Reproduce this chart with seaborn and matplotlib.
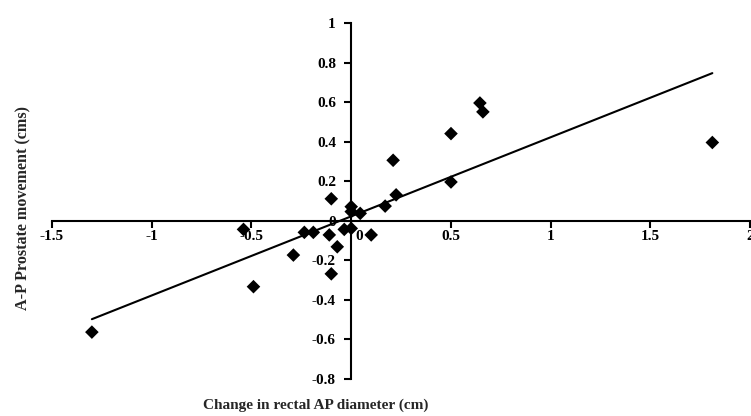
import numpy as np
import pandas as pd
import matplotlib
matplotlib.use("Agg")
import matplotlib.pyplot as plt
import matplotlib.transforms as mtransforms
import seaborn as sns

# values
rectal_change = [-1.30, -0.54, -0.49, -0.29, -0.235, -0.19, -0.11, -0.10, -0.10, -0.07,
                 -0.035, 0.0, 0.0, 0.0, 0.045, 0.10, 0.17, 0.21, 0.225, 0.50,
                 0.50, 0.645, 0.66, 1.81]
prostate_move = [-0.565, -0.045, -0.335, -0.175, -0.06, -0.06, -0.073, 0.11, -0.27, -0.133,
                 -0.045, 0.07, 0.045, -0.04, 0.036, -0.073, 0.073, 0.305, 0.13, 0.44,
                 0.195, 0.595, 0.55, 0.395]
x_ticks = [-1.5, -1, -0.5, 0, 0.5, 1, 1.5, 2]
x_labels = ["-1.5", "-1", "-0.5", "0", "0.5", "1", "1.5", "2"]
y_ticks = [-0.8, -0.6, -0.4, -0.2, 0, 0.2, 0.4, 0.6, 0.8, 1]
y_labels = ["-0.8", "-0.6", "-0.4", "-0.2", "0", "0.2", "0.4", "0.6", "0.8", "1"]

df = pd.DataFrame({"rectal": rectal_change, "prostate": prostate_move})

sns.set_style("white")
plt.rcParams["font.family"] = ["Liberation Serif", "DejaVu Serif"]

fig = plt.figure(figsize=(7.51, 4.16), dpi=100)
ax = fig.add_axes([0.0692, 0.0901, 0.9298, 0.8546])

sns.regplot(x="rectal", y="prostate", data=df, ci=None, ax=ax,
            marker="D", color="black",
            scatter_kws={"s": 48, "edgecolor": "none", "alpha": 1, "zorder": 3},
            line_kws={"linewidth": 1.5, "color": "black"})

ax.set_xlim(-1.5, 2)
ax.set_ylim(-0.8, 1)

# axes cross at the origin
ax.spines["left"].set_position(("data", 0))
ax.spines["bottom"].set_position(("data", 0))
ax.spines["right"].set_visible(False)
ax.spines["top"].set_visible(False)
for s in ["left", "bottom"]:
    ax.spines[s].set_linewidth(1.5)
    ax.spines[s].set_color("black")

ax.set_xticks(x_ticks)
ax.set_xticklabels(x_labels)
ax.set_yticks(y_ticks)
ax.set_yticklabels(y_labels)
ax.tick_params(axis="x", bottom=True, direction="out", length=5, width=1.5, pad=2,
               labelsize=11, colors="black")
ax.tick_params(axis="y", left=True, direction="out", length=5, width=1.5, pad=6,
               labelsize=11, colors="black")
for lab in ax.get_xticklabels() + ax.get_yticklabels():
    lab.set_fontweight("bold")

# the "0" on the x axis sits a little right of the vertical axis
zero_lab = ax.get_xticklabels()[3]
zero_lab.set_transform(zero_lab.get_transform() +
                       mtransforms.ScaledTranslation(6 / 72, 0, fig.dpi_scale_trans))

ax.set_xlabel("")
ax.set_ylabel("")
ax.set_facecolor("white")

fig.text(23 / 751, 1 - 208 / 416, "A-P Prostate movement (cms)", rotation=90,
         ha="center", va="center", fontsize=11.6, fontweight="bold")
fig.text(316 / 751, 1 - 405 / 416, "Change in rectal AP diameter (cm)",
         ha="center", va="center", fontsize=11, fontweight="bold")

fig.savefig("out.png", dpi=100, facecolor="white")
